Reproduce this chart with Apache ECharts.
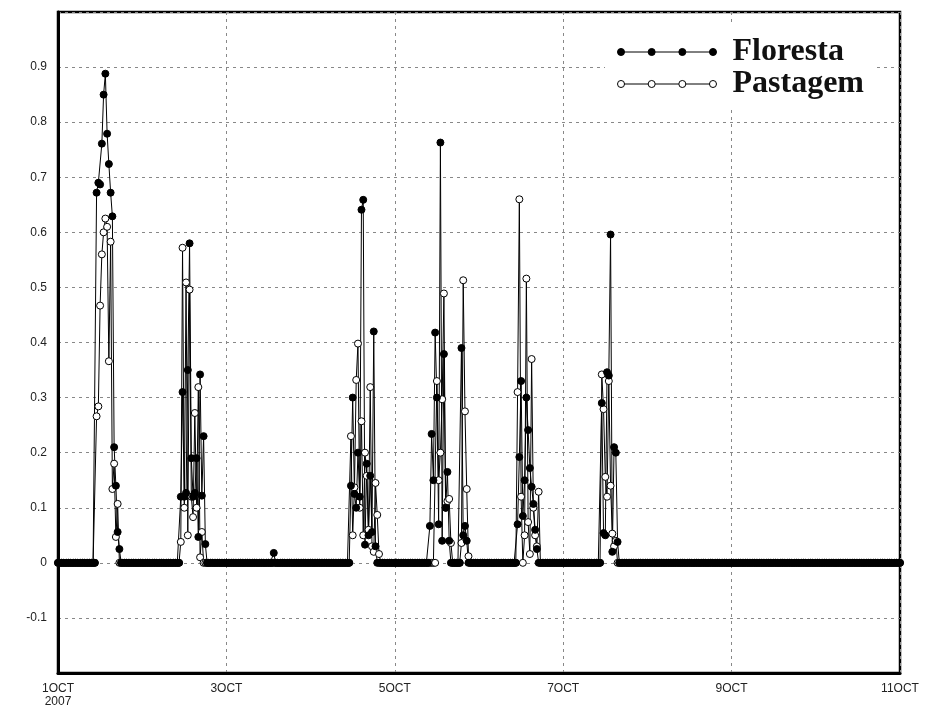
<!DOCTYPE html>
<html>
<head>
<meta charset="utf-8">
<script src="https://cdn.jsdelivr.net/npm/echarts@6/dist/echarts.min.js"></script>
<style>
  html, body { margin: 0; background: #fff; }
  #chart { width: 927px; height: 713px; }
</style>
</head>
<body>
<div id="chart"></div>
<script>
const STEP_HOURS = 0.5 // one reading every 30 min
const N_STEPS = 480 // 1 OCT 00h .. 11 OCT 00h

const tickLabels = ['1OCT\n2007', '3OCT', '5OCT', '7OCT', '9OCT', '11OCT']

// bursts: [first step index, readings...] ; every other step reads 0
const florestaBursts = [
  [22, [0.672, 0.69, 0.687, 0.761, 0.85, 0.888, 0.779, 0.724, 0.672, 0.629, 0.21, 0.14, 0.056, 0.025]],
  [70, [0.12, 0.31, 0.12, 0.127, 0.35, 0.58, 0.19, 0.12, 0.127, 0.19, 0.047, 0.342, 0.122, 0.23, 0.034]],
  [123, [0.018]],
  [167, [0.14, 0.30, 0.125, 0.1, 0.2, 0.12, 0.641, 0.659, 0.033, 0.18, 0.05, 0.158, 0.056, 0.42, 0.03]],
  [212, [0.067, 0.234, 0.15, 0.418, 0.3, 0.07, 0.763, 0.04, 0.379, 0.1, 0.165, 0.04]],
  [230, [0.39, 0.05, 0.067, 0.04]],
  [262, [0.07, 0.192, 0.33, 0.085, 0.15, 0.30, 0.241, 0.172, 0.138, 0.107, 0.06, 0.025]],
  [310, [0.29, 0.054, 0.05, 0.346, 0.34, 0.596, 0.02, 0.21, 0.2, 0.038]]
]

const pastagemBursts = [
  [22, [0.266, 0.284, 0.467, 0.56, 0.6, 0.625, 0.61, 0.366, 0.583, 0.134, 0.18, 0.047, 0.107]],
  [70, [0.038, 0.572, 0.1, 0.509, 0.05, 0.496, 0.12, 0.083, 0.272, 0.1, 0.319, 0.01, 0.056]],
  [167, [0.23, 0.05, 0.137, 0.332, 0.398, 0.1, 0.257, 0.05, 0.2, 0.158, 0.06, 0.319, 0.03, 0.02, 0.145, 0.087, 0.016]],
  [216, [0.33, 0.15, 0.2, 0.297, 0.489, 0.1, 0.112, 0.116, 0.036]],
  [230, [0.036, 0.513, 0.275, 0.134, 0.012]],
  [262, [0.31, 0.66, 0.12, 0, 0.05, 0.516, 0.074, 0.016, 0.37, 0.1, 0.05, 0.03, 0.129]],
  [310, [0.342, 0.279, 0.156, 0.12, 0.33, 0.14, 0.053, 0.03, 0.04]]
]

const buildSeries = (bursts) => {
  const values = new Array(N_STEPS + 1).fill(0)
  bursts.forEach(([start, vals]) => {
    vals.forEach((v, i) => { values[start + i] = v })
  })
  return values.map((v, i) => [i * STEP_HOURS, v])
}

// legend icon: a line through four markers
const ICON = 'path://' +
  'M0.5,4a3.5,3.5 0 1,0 7,0a3.5,3.5 0 1,0 -7,0z' +
  'M7.5,4L31,4' +
  'M31,4a3.5,3.5 0 1,0 7,0a3.5,3.5 0 1,0 -7,0z' +
  'M38,4L61.5,4' +
  'M61.5,4a3.5,3.5 0 1,0 7,0a3.5,3.5 0 1,0 -7,0z' +
  'M68.5,4L92,4' +
  'M92,4a3.5,3.5 0 1,0 7,0a3.5,3.5 0 1,0 -7,0z'

const FILLED = { color: '#000', borderColor: '#000', borderWidth: 1 }
const HOLLOW = { color: '#fff', borderColor: '#000', borderWidth: 1 }
const LABEL_FONT = { fontFamily: 'Liberation Sans, Arial, sans-serif', fontSize: 12, color: '#222' }

const chart = echarts.init(document.getElementById('chart'))
chart.setOption({
  animation: false,
  backgroundColor: '#fff',
  grid: {
    left: 58, right: 27, top: 12, bottom: 40,
    show: true, borderColor: '#000', borderWidth: 2.5,
    outerBoundsMode: 'none'
  },
  legend: {
    orient: 'vertical',
    left: 605,
    top: 24,
    padding: [12, 12, 9, 12],
    backgroundColor: '#fff',
    itemWidth: 99,
    itemHeight: 8,
    itemGap: 0,
    selectedMode: false,
    textStyle: {
      fontFamily: 'Liberation Serif, Times New Roman, serif',
      fontWeight: 'bold',
      fontSize: 32,
      lineHeight: 31,
      color: '#111',
      padding: [0, 0, 0, 11]
    },
    data: [
      { name: 'Floresta', icon: ICON, itemStyle: FILLED },
      { name: 'Pastagem', icon: ICON, itemStyle: HOLLOW }
    ]
  },
  xAxis: {
    type: 'value',
    min: 0,
    max: N_STEPS * STEP_HOURS,
    interval: 48,
    axisLine: { show: true, onZero: false, lineStyle: { color: '#000', width: 3 } },
    axisTick: { show: false },
    axisLabel: {
      ...LABEL_FONT,
      margin: 9,
      lineHeight: 13,
      formatter: (v) => tickLabels[Math.round(v / 48)] || ''
    },
    splitLine: { show: true, lineStyle: { color: '#888', type: [3, 4], width: 1 } }
  },
  yAxis: {
    type: 'value',
    min: -0.2,
    max: 1.0,
    interval: 0.1,
    axisLine: { show: true, lineStyle: { color: '#000', width: 3 } },
    axisTick: { show: false },
    axisLabel: {
      ...LABEL_FONT,
      margin: 11,
      formatter: (v) => {
        const r = Math.round(v * 10) / 10
        if (r < -0.15 || r > 0.95) return ''
        return String(r)
      }
    },
    splitLine: { show: true, lineStyle: { color: '#888', type: [3, 4], width: 1 } }
  },
  series: [
    {
      name: 'Pastagem',
      type: 'line',
      data: buildSeries(pastagemBursts),
      symbol: 'circle',
      symbolSize: 7,
      showSymbol: true,
      lineStyle: { color: '#000', width: 1 },
      itemStyle: HOLLOW,
      emphasis: { disabled: true }
    },
    {
      name: 'Floresta',
      type: 'line',
      data: buildSeries(florestaBursts),
      symbol: 'circle',
      symbolSize: 7,
      showSymbol: true,
      lineStyle: { color: '#000', width: 1 },
      itemStyle: FILLED,
      emphasis: { disabled: true }
    }
  ]
})
</script>
</body>
</html>
